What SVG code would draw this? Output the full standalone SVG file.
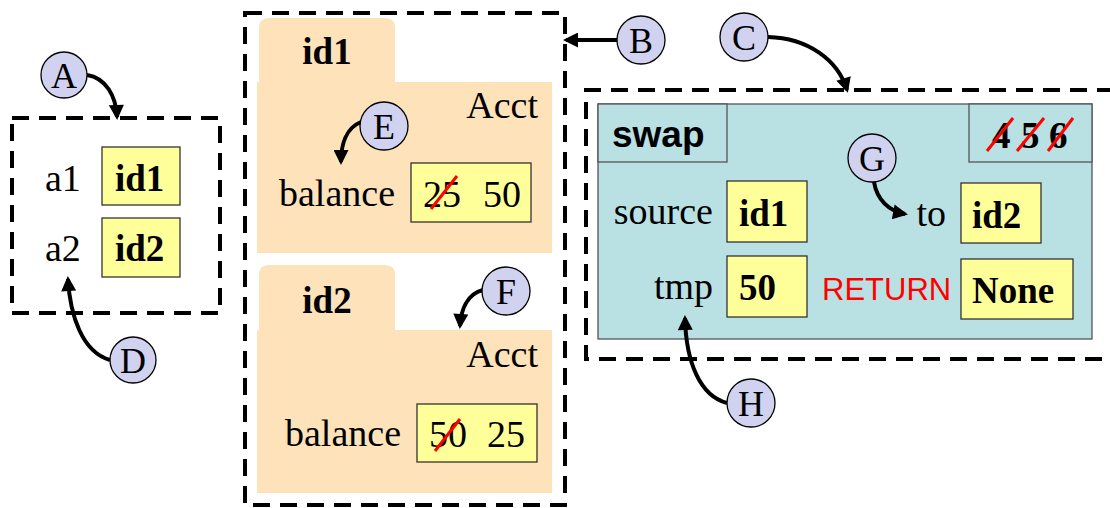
<svg xmlns="http://www.w3.org/2000/svg" width="1110" height="508" viewBox="0 0 1110 508">
<defs>
<marker id="ah" viewBox="0 0 10 10" refX="8" refY="5" markerWidth="16" markerHeight="15" markerUnits="userSpaceOnUse" orient="auto">
<path d="M0,0 L10,5 L0,10 z" fill="#000"/>
</marker>
<style>
.dash{fill:none;stroke:#000;stroke-width:4;stroke-dasharray:17 10}
.val{fill:#FFFF99;stroke:#333;stroke-width:1.3}
.obj{fill:#FDE2BA}
.frame{fill:#B9E0E3;stroke:#555;stroke-width:1.3}
.t{font-family:"Liberation Serif","Times New Roman",serif;font-size:38px;fill:#000}
.b{font-family:"Liberation Serif","Times New Roman",serif;font-size:37px;font-weight:bold;fill:#000}
.s{font-family:"Liberation Sans",Arial,sans-serif}
.lab circle{fill:#D0D2F0;stroke:#000;stroke-width:1.3}
.lab text{font-family:"Liberation Serif","Times New Roman",serif;font-size:36px;text-anchor:middle;fill:#000}
.arr{fill:none;stroke:#000;stroke-width:4;marker-end:url(#ah)}
.strike{stroke:#FF0000;stroke-width:3}
</style>
</defs>
<rect width="1110" height="508" fill="#fff"/>

<g id="globals">
<rect class="dash" x="12" y="118" width="208" height="195"/>
<text class="t" x="45" y="191">a1</text>
<rect class="val" x="102" y="147" width="78" height="58"/>
<text class="b" x="115" y="191">id1</text>
<text class="t" x="45" y="261">a2</text>
<rect class="val" x="102" y="218" width="78" height="59"/>
<text class="b" x="115" y="261">id2</text>
</g>

<g id="heap">
<rect class="dash" x="245" y="13" width="320" height="492"/>
</g>

<g id="obj-id1">
<path class="obj" d="M259,82 V28 Q259,18 269,18 H385 Q395,18 395,28 V82 Z"/>
<rect class="obj" x="257" y="82" width="295" height="171"/>
<text class="b" x="327" y="64" text-anchor="middle">id1</text>
<text class="t" x="538" y="118" text-anchor="end">Acct</text>
<text class="t" x="279" y="206">balance</text>
<rect class="val" x="411" y="163" width="120" height="59"/>
<text class="t" x="423" y="207">25</text>
<text class="t" x="483" y="207">50</text>
<line class="strike" x1="431" y1="209" x2="457" y2="176"/>
</g>

<g id="obj-id2">
<path class="obj" d="M259,330 V275 Q259,265 269,265 H385 Q395,265 395,275 V330 Z"/>
<rect class="obj" x="257" y="330" width="295" height="163"/>
<text class="b" x="327" y="313" text-anchor="middle">id2</text>
<text class="t" x="538" y="367" text-anchor="end">Acct</text>
<text class="t" x="285" y="446">balance</text>
<rect class="val" x="417" y="404" width="120" height="58"/>
<text class="t" x="429" y="447">50</text>
<text class="t" x="487" y="447">25</text>
<line class="strike" x1="435" y1="451" x2="460" y2="419"/>
</g>

<g id="frame-swap">
<path class="dash" d="M1114,90 H586 V359 H1114"/>
<rect class="frame" x="598" y="104" width="494" height="235"/>
<rect class="frame" x="598" y="104" width="129" height="58"/>
<text class="s" x="612" y="147" font-size="37" font-weight="bold">swap</text>
<rect class="frame" x="969" y="104" width="123" height="58"/>
<text class="b" x="992" y="148">4</text>
<text class="b" x="1021" y="148">5</text>
<text class="b" x="1049" y="148">6</text>
<line class="strike" x1="987" y1="151" x2="1013" y2="118"/>
<line class="strike" x1="1017" y1="151" x2="1044" y2="118"/>
<line class="strike" x1="1048" y1="151" x2="1073" y2="118"/>
<text class="t" x="713" y="224" text-anchor="end">source</text>
<rect class="val" x="727" y="181" width="80" height="61"/>
<text class="b" x="739" y="226">id1</text>
<text class="t" x="946" y="226" text-anchor="end">to</text>
<rect class="val" x="961" y="183" width="80" height="60"/>
<text class="b" x="972" y="228">id2</text>
<text class="t" x="713" y="299" text-anchor="end">tmp</text>
<rect class="val" x="727" y="256" width="80" height="61"/>
<text class="b" x="739" y="300">50</text>
<text class="s" x="822" y="300" font-size="31" fill="#FF0000">RETURN</text>
<rect class="val" x="961" y="259" width="112" height="60"/>
<text class="b" x="972" y="303">None</text>
</g>

<g id="connectors">
<path class="arr" d="M87,75 C106,78 116,96 117,117"/>
<path class="arr" d="M110,360 C82,352 70,315 68,279"/>
<path class="arr" d="M617,40 L566,40"/>
<path class="arr" d="M768,37 C808,38 838,60 847,90"/>
<path class="arr" d="M361,122 C346,128 341,145 341,162"/>
<path class="arr" d="M483,290 C467,294 461,310 460,326"/>
<path class="arr" d="M874,182 C877,200 889,211 905,214"/>
<path class="arr" d="M727,403 C700,396 686,362 685,318"/>
</g>

<g id="label-A" class="lab"><circle cx="64" cy="75" r="23"/><text x="64" y="88">A</text></g>
<g id="label-B" class="lab"><circle cx="641" cy="40" r="24"/><text x="641" y="53">B</text></g>
<g id="label-C" class="lab"><circle cx="744" cy="37" r="24"/><text x="744" y="50">C</text></g>
<g id="label-D" class="lab"><circle cx="133" cy="360" r="23"/><text x="133" y="373">D</text></g>
<g id="label-E" class="lab"><circle cx="384" cy="126" r="24"/><text x="384" y="139">E</text></g>
<g id="label-F" class="lab"><circle cx="506" cy="291" r="24"/><text x="506" y="304">F</text></g>
<g id="label-G" class="lab"><circle cx="872" cy="158" r="24"/><text x="872" y="171">G</text></g>
<g id="label-H" class="lab"><circle cx="751" cy="403" r="24"/><text x="751" y="416">H</text></g>
</svg>
